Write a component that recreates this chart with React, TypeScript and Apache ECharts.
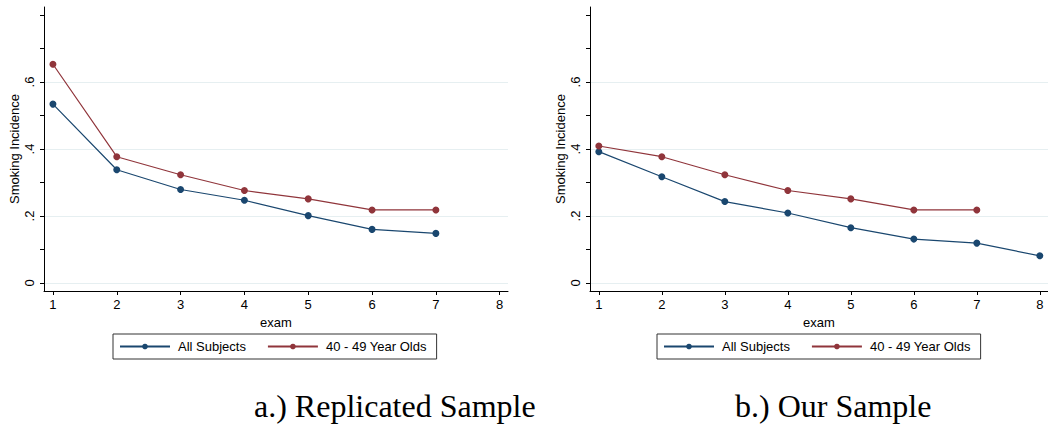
import React, { useEffect, useRef } from "react";
import * as echarts from "echarts";

const examsA = [1, 2, 3, 4, 5, 6, 7];
const allSubjectsA = [0.534, 0.338, 0.279, 0.247, 0.201, 0.16, 0.148];
const age4049A = [0.653, 0.377, 0.323, 0.276, 0.251, 0.218, 0.218];

const examsAllB = [1, 2, 3, 4, 5, 6, 7, 8];
const allSubjectsB = [0.392, 0.317, 0.243, 0.209, 0.165, 0.131, 0.119, 0.081];
const examsAgeB = [1, 2, 3, 4, 5, 6, 7];
const age4049B = [0.409, 0.377, 0.323, 0.276, 0.251, 0.218, 0.218];

const xTicks = [1, 2, 3, 4, 5, 6, 7, 8];
const yLabelTicks = [0, 0.2, 0.4, 0.6];
const yMinorTicks = [0, 0.1, 0.2, 0.3, 0.4, 0.5, 0.6, 0.7, 0.8];
const seriesNames = ["All Subjects", "40 - 49 Year Olds"];
const captions = ["a.) Replicated Sample", "b.) Our Sample"];

const BLUE = "#1a476f";
const RED = "#90353b";
const FONT = "'Liberation Sans', Arial, sans-serif";
const SERIF = "'Liberation Serif', 'Times New Roman', serif";

const pairs = (xs: number[], ys: number[]) => xs.map((x, i) => [x, ys[i]]);

export default function App() {
  const ref = useRef<HTMLDivElement>(null);
  useEffect(() => {
    document.body.style.margin = "0";
    const chart = echarts.init(ref.current!, null, { renderer: "svg" });
    const xAxis = (gi: number) => ({
      type: "value",
      gridIndex: gi,
      min: 0.86,
      max: 8.13,
      name: "exam",
      nameLocation: "middle",
      nameGap: 23,
      nameTextStyle: { fontFamily: FONT, fontSize: 13, color: "#000" },
      axisLine: { show: true, onZero: false, lineStyle: { color: "#000", width: 1 } },
      axisTick: { show: true, length: 4, customValues: xTicks, lineStyle: { color: "#000" } },
      axisLabel: {
        show: true,
        customValues: xTicks,
        margin: 7,
        fontFamily: FONT,
        fontSize: 13,
        color: "#000",
      },
      splitLine: { show: false },
    });
    const yAxis = (gi: number) => ({
      type: "value",
      gridIndex: gi,
      min: -0.024,
      max: 0.824,
      name: "Smoking Incidence",
      nameLocation: "middle",
      nameGap: 23,
      nameTextStyle: { fontFamily: FONT, fontSize: 13, color: "#000" },
      axisLine: { show: true, onZero: false, lineStyle: { color: "#000", width: 1 } },
      axisTick: { show: true, length: 4, customValues: yMinorTicks, lineStyle: { color: "#000" } },
      axisLabel: {
        show: true,
        customValues: yLabelTicks,
        rotate: 90,
        margin: 8,
        fontFamily: FONT,
        fontSize: 13,
        color: "#000",
        formatter: (v: number) => (v === 0 ? "0" : "." + Math.round(v * 10)),
      },
      splitLine: { show: false },
    });
    const gridLines = {
      silent: true,
      symbol: "none",
      label: { show: false },
      lineStyle: { color: "#e6eff1", width: 1, type: "solid" },
      data: yLabelTicks.map((v) => ({ yAxis: v })),
      z: 0,
    };
    const lineSeries = (name: string, color: string, data: number[][], gi: number, mark: boolean) => ({
      type: "line",
      name,
      xAxisIndex: gi,
      yAxisIndex: gi,
      data,
      symbol: "circle",
      symbolSize: 7,
      lineStyle: { color, width: 1.2 },
      itemStyle: { color },
      ...(mark ? { markLine: gridLines } : {}),
    });
    const legend = (left: number) => ({
      left,
      top: 334,
      orient: "horizontal",
      data: seriesNames,
      itemWidth: 50,
      itemHeight: 7,
      itemGap: 21,
      padding: [6, 10, 6, 6],
      borderColor: "#333",
      borderWidth: 1,
      selectedMode: false,
      textStyle: { fontFamily: FONT, fontSize: 13, color: "#000", padding: [0, 0, 0, 3] },
    });
    chart.setOption({
      animation: false,
      backgroundColor: "#fff",
      grid: [
        { left: 44, top: 7, width: 464, height: 284, containLabel: false },
        { left: 590, top: 7, width: 465, height: 284, containLabel: false },
      ],
      xAxis: [xAxis(0), xAxis(1)],
      yAxis: [yAxis(0), yAxis(1)],
      legend: [legend(113), legend(657)],
      series: [
        lineSeries(seriesNames[0], BLUE, pairs(examsA, allSubjectsA), 0, true),
        lineSeries(seriesNames[1], RED, pairs(examsA, age4049A), 0, false),
        lineSeries(seriesNames[0], BLUE, pairs(examsAllB, allSubjectsB), 1, true),
        lineSeries(seriesNames[1], RED, pairs(examsAgeB, age4049B), 1, false),
      ],
      graphic: [
        {
          type: "text",
          left: 254,
          top: 390,
          style: { text: captions[0], fontFamily: SERIF, fontSize: 32, fill: "#000" },
        },
        {
          type: "text",
          left: 735,
          top: 390,
          style: { text: captions[1], fontFamily: SERIF, fontSize: 32, fill: "#000" },
        },
      ],
    });
    return () => chart.dispose();
  }, []);
  return <div ref={ref} style={{ position: "fixed", left: 0, top: 0, width: 1048, height: 426 }} />;
}
